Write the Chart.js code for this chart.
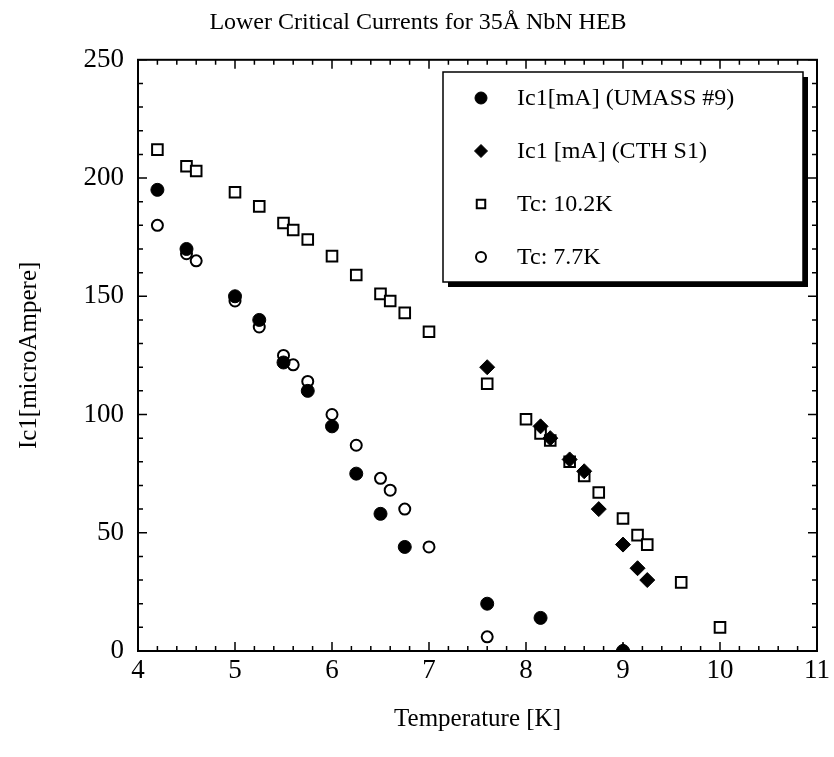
<!DOCTYPE html>
<html>
<head>
<meta charset="utf-8">
<script src="https://cdn.jsdelivr.net/npm/chart.js@4/dist/chart.umd.min.js"></script>
<style>
  body { margin: 0; background: #fff; }
  #wrap { width: 834px; height: 757px; }
</style>
</head>
<body>
<div id="wrap"><canvas id="myChart"></canvas></div>
<script>
"use strict";

const seriesNames = ["Ic1[mA] (UMASS #9)", "Ic1 [mA] (CTH S1)", "Tc: 10.2K", "Tc: 7.7K"];

const umassT = [4.2, 4.5, 5.0, 5.25, 5.5, 5.75, 6.0, 6.25, 6.5, 6.75, 7.6, 8.15, 9.0];
const umassI = [195, 170, 150, 140, 122, 110, 95, 75, 58, 44, 20, 14, 0];

const cthT = [7.6, 8.15, 8.25, 8.45, 8.6, 8.75, 9.0, 9.15, 9.25, 9.0];
const cthI = [120, 95, 90, 81, 76, 60, 45, 35, 30, 0];

const tc102T = [4.2, 4.5, 4.6, 5.0, 5.25, 5.5, 5.6, 5.75, 6.0, 6.25, 6.5, 6.6, 6.75, 7.0,
  7.6, 8.0, 8.15, 8.25, 8.45, 8.6, 8.75, 9.0, 9.15, 9.25, 9.6, 10.0];
const tc102I = [212, 205, 203, 194, 188, 181, 178, 174, 167, 159, 151, 148, 143, 135,
  113, 98, 92, 89, 80, 74, 67, 56, 49, 45, 29, 10];

const tc77T = [4.2, 4.5, 4.6, 5.0, 5.25, 5.5, 5.6, 5.75, 6.0, 6.25, 6.5, 6.6, 6.75, 7.0, 7.6];
const tc77I = [180, 168, 165, 148, 137, 125, 121, 114, 100, 87, 73, 68, 60, 44, 6];

const xTicks = [4, 5, 6, 7, 8, 9, 10, 11];
const yTicks = [0, 50, 100, 150, 200, 250];

const toPoints = (xs, ys) => xs.map((x, i) => ({ x: x, y: ys[i] }));

const serif = "'Liberation Serif', 'Times New Roman', serif";

// frame, inward ticks and boxed legend
const framePlugin = {
  id: "frame",
  afterDatasetsDraw(chart) {
    const ctx = chart.ctx;
    const a = chart.chartArea;
    const xs = chart.scales.x;
    const ys = chart.scales.y;
    ctx.save();
    ctx.strokeStyle = "#000";
    ctx.lineWidth = 2;
    ctx.strokeRect(a.left, a.top, a.right - a.left, a.bottom - a.top);

    ctx.lineWidth = 1.5;
    ctx.beginPath();
    for (let v = 4; v <= 11.001; v += 0.2) {
      const px = xs.getPixelForValue(v);
      const major = Math.abs(v - Math.round(v)) < 0.01;
      const len = major ? 9 : 5;
      ctx.moveTo(px, a.bottom);
      ctx.lineTo(px, a.bottom - len);
      ctx.moveTo(px, a.top);
      ctx.lineTo(px, a.top + len);
    }
    for (let v = 0; v <= 250.01; v += 10) {
      const py = ys.getPixelForValue(v);
      const major = v % 50 === 0;
      const len = major ? 9 : 5;
      ctx.moveTo(a.left, py);
      ctx.lineTo(a.left + len, py);
      ctx.moveTo(a.right, py);
      ctx.lineTo(a.right - len, py);
    }
    ctx.stroke();

    // legend box
    const bx = 443, by = 72, bw = 360, bh = 210;
    ctx.fillStyle = "#000";
    ctx.fillRect(bx + 5, by + 5, bw, bh);
    ctx.fillStyle = "#fff";
    ctx.fillRect(bx, by, bw, bh);
    ctx.lineWidth = 1.5;
    ctx.strokeRect(bx, by, bw, bh);

    ctx.font = "24px " + serif;
    ctx.textBaseline = "middle";
    ctx.textAlign = "left";
    chart.data.datasets.forEach((ds, i) => {
      const cy = by + 26 + i * 53;
      ctx.fillStyle = ds.backgroundColor;
      ctx.strokeStyle = "#000";
      ctx.lineWidth = ds.borderWidth;
      Chart.helpers.drawPoint(ctx, {
        pointStyle: ds.pointStyle,
        radius: ds.legendRadius,
        borderWidth: ds.borderWidth,
        rotation: ds.rotation || 0
      }, bx + 38, cy);
      ctx.fillStyle = "#000";
      ctx.fillText(ds.label, bx + 74, cy + 1);
    });
    ctx.restore();
  }
};

const ctx = document.getElementById("myChart").getContext("2d");
const myChart = new Chart(ctx, {
  type: "scatter",
  data: {
    datasets: [
      {
        label: seriesNames[0],
        data: toPoints(umassT, umassI),
        pointStyle: "circle",
        pointRadius: 6.5,
        legendRadius: 6,
        backgroundColor: "#000",
        borderColor: "#000",
        borderWidth: 1,
      },
      {
        label: seriesNames[1],
        data: toPoints(cthT, cthI),
        pointStyle: "rectRot",
        pointRadius: 7.5,
        legendRadius: 6.5,
        backgroundColor: "#000",
        borderColor: "#000",
        borderWidth: 1,
      },
      {
        label: seriesNames[2],
        data: toPoints(tc102T, tc102I),
        pointStyle: "rect",
        pointRadius: 7.5,
        legendRadius: 6,
        backgroundColor: "#fff",
        borderColor: "#000",
        borderWidth: 2,
      },
      {
        label: seriesNames[3],
        data: toPoints(tc77T, tc77I),
        pointStyle: "circle",
        pointRadius: 5.5,
        legendRadius: 5,
        backgroundColor: "#fff",
        borderColor: "#000",
        borderWidth: 2,
      },
    ],
  },
  options: {
    responsive: true,
    maintainAspectRatio: false,
    animation: false,
    layout: {
      padding: { right: 8, top: 0, bottom: 19, left: 10 },
    },
    scales: {
      x: {
        type: "linear",
        min: 4,
        max: 11,
        afterBuildTicks(scale) {
          scale.ticks = xTicks.map((v) => ({ value: v }));
        },
        afterFit(scale) {
          scale.height = 87;
        },
        grid: { display: false, drawTicks: false },
        border: { display: false },
        ticks: {
          color: "#000",
          padding: 4,
          font: { family: serif, size: 27 },
        },
        title: {
          display: true,
          text: "Temperature [K]",
          color: "#000",
          font: { family: serif, size: 25 },
          padding: { top: 10 },
        },
      },
      y: {
        type: "linear",
        min: 0,
        max: 250,
        afterBuildTicks(scale) {
          scale.ticks = yTicks.map((v) => ({ value: v }));
        },
        afterFit(scale) {
          scale.width = 128;
        },
        grid: { display: false, drawTicks: false },
        border: { display: false },
        ticks: {
          color: "#000",
          padding: 14,
          font: { family: serif, size: 27 },
        },
        title: {
          display: true,
          text: "Ic1[microAmpere]",
          color: "#000",
          font: { family: serif, size: 25 },
          padding: { bottom: 0 },
        },
      },
    },
    plugins: {
      legend: {
        display: false,
      },
      tooltip: { enabled: false },
      title: {
        display: true,
        text: "Lower Critical Currents for 35Å NbN HEB",
        color: "#000",
        font: { family: serif, size: 24, weight: "normal" },
        padding: { top: 8, bottom: 23 },
      },
    },
  },
  plugins: [framePlugin],
});
</script>
</body>
</html>
